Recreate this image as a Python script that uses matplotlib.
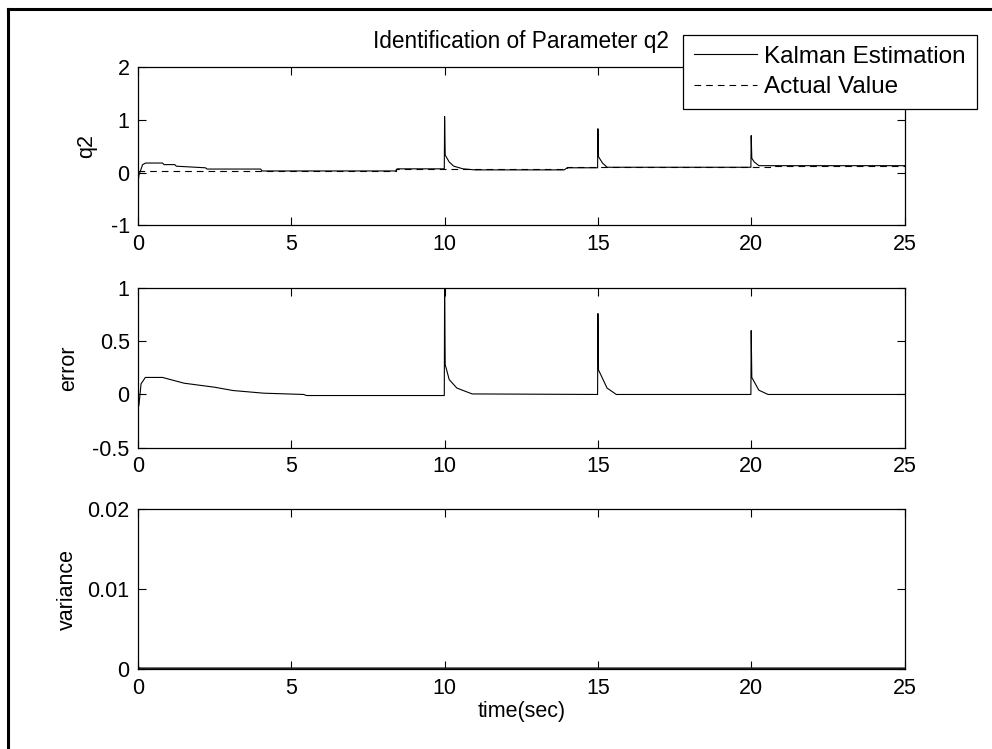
import numpy as np
import matplotlib.pyplot as plt
from matplotlib.lines import Line2D

plt.rcParams['font.family'] = ['Liberation Sans', 'DejaVu Sans']

# Kalman estimate of q2
t_est = [0.0, 0.03, 0.15, 0.25, 0.8, 0.85, 1.2, 1.25, 2.2, 2.25, 4.0, 4.05, 8.4, 8.45, 9.99,
         10.0, 10.02, 10.15, 10.3, 10.6, 11.0, 13.9, 14.0, 14.99,
         15.0, 15.02, 15.15, 15.3, 15.6, 19.99,
         20.0, 20.02, 20.1, 20.25, 20.6, 25.0]
q2_est = [-0.2, -0.05, 0.15, 0.18, 0.18, 0.15, 0.15, 0.12, 0.09, 0.066, 0.066, 0.03, 0.03, 0.07, 0.07,
          1.06, 0.33, 0.2, 0.12, 0.07, 0.05, 0.05, 0.09, 0.09,
          0.83, 0.3, 0.18, 0.1, 0.1, 0.1,
          0.7, 0.27, 0.2, 0.13, 0.13, 0.13]

# actual value (steps)
t_act = [0.0, 8.4, 14.0, 20.6, 25.0]
q2_act = [0.03, 0.07, 0.1, 0.13, 0.13]

# estimation error (middle panel)
t_err = [0.0, 0.03, 0.1, 0.24, 0.8, 1.5, 2.5, 3.1, 4.1, 5.4, 5.5, 9.99,
         10.0, 10.02, 10.15, 10.4, 10.9, 14.99,
         15.0, 15.02, 15.3, 15.6, 19.99,
         20.0, 20.02, 20.25, 20.55, 25.0]
err = [-0.13, -0.1, 0.1, 0.16, 0.16, 0.106, 0.068, 0.037, 0.012, 0.0, -0.01, -0.01,
       1.0, 0.28, 0.14, 0.06, 0.005, 0.0,
       0.76, 0.23, 0.06, 0.0, 0.0,
       0.6, 0.16, 0.04, 0.0, 0.0]

# variance stays near zero
t_var = [0.0, 0.05, 25.0]
var = [0.0002, 0.00005, 0.00005]

W, H = 992, 749
fig = plt.figure(figsize=(W / 100, H / 100), dpi=100)

def pos(left, top, right, bottom):
    return [left / W, 1 - bottom / H, (right - left) / W, (bottom - top) / H]

ax1 = fig.add_axes(pos(138, 67, 904.5, 225.3))
ax2 = fig.add_axes(pos(138, 288, 904.5, 447.7))
ax3 = fig.add_axes(pos(138, 509, 904.5, 669.3))

fs = 15.5
for ax in (ax1, ax2, ax3):
    ax.set_xlim(0, 25)
    ax.set_xticks([0, 5, 10, 15, 20, 25])
    ax.tick_params(direction='in', top=True, right=True, length=5.5,
                   width=0.8, labelsize=fs, pad=6)
    for s in ax.spines.values():
        s.set_linewidth(0.9)

ax1.step(t_act, q2_act, where='post', color='k', lw=0.8, ls=(0, (6, 4.5)),
         label='Actual Value')
ax1.plot(t_est, q2_est, color='k', lw=0.8, label='Kalman Estimation')
ax1.set_ylim(-1, 2)
ax1.set_yticks([-1, 0, 1, 2])
ax1.set_yticklabels(['-1', '0', '1', '2'])
ax1.set_ylabel('q2', fontsize=fs, labelpad=9.5)
ax1.set_title('Identification of Parameter q2', fontsize=16.3, pad=14)

h, l = ax1.get_legend_handles_labels()
leg = ax1.legend(h[::-1], l[::-1], loc='upper right',
                 bbox_to_anchor=(977 / W, 1 - 35 / H),
                 bbox_transform=fig.transFigure, fontsize=17.5,
                 frameon=True, fancybox=False, edgecolor='k', framealpha=1,
                 borderaxespad=0, handlelength=2.6, handletextpad=0.3,
                 labelspacing=0.35, borderpad=0.45)
leg.get_frame().set_linewidth(0.9)

ax2.plot(t_err, err, color='k', lw=0.8)
ax2.set_ylim(-0.5, 1)
ax2.set_yticks([-0.5, 0, 0.5, 1])
ax2.set_yticklabels(['-0.5', '0', '0.5', '1'])
ax2.set_ylabel('error', fontsize=fs, labelpad=9.8)

ax3.plot(t_var, var, color='#222222', lw=2.2)
ax3.set_ylim(0, 0.02)
ax3.set_yticks([0, 0.01, 0.02])
ax3.set_yticklabels(['0', '0.01', '0.02'])
ax3.set_ylabel('variance', fontsize=fs, labelpad=7)
ax3.set_xlabel('time(sec)', fontsize=fs, labelpad=2)

# outer frame of the exported figure
fig.add_artist(Line2D([8 / W, 8 / W], [-0.1, 1 - 9 / H], transform=fig.transFigure,
                      color='k', lw=2.2))
fig.add_artist(Line2D([8 / W, 1.1], [1 - 9 / H, 1 - 9 / H], transform=fig.transFigure,
                      color='k', lw=2.2))

fig.savefig('out.png', dpi=100)
